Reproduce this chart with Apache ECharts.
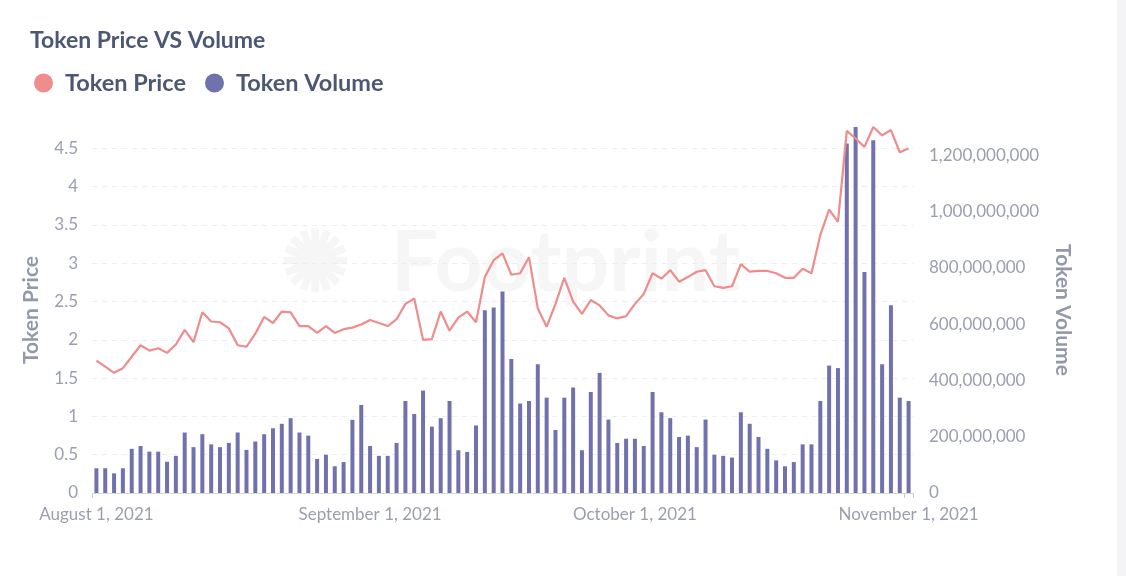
<!DOCTYPE html>
<html>
<head>
<meta charset="utf-8">
<script src="https://cdn.jsdelivr.net/npm/echarts@6/dist/echarts.min.js"></script>
<style>
html,body{margin:0;padding:0;background:#fff;}
#chart{width:1126px;height:576px;}
</style>
</head>
<body>
<div id="chart"></div>
<script>
// Daily categories: August 1, 2021 .. November 1, 2021
const startDate = '2021-08-01';
const dayCount = 93;
const monthNames = ['January','February','March','April','May','June','July','August','September','October','November','December'];
const categories = [];
(function(){
  const d0 = new Date(startDate + 'T00:00:00Z');
  for (let i = 0; i < dayCount; i++) {
    const d = new Date(d0.getTime() + i * 86400000);
    categories.push(monthNames[d.getUTCMonth()] + ' ' + d.getUTCDate() + ', ' + d.getUTCFullYear());
  }
})();

const tokenPrice = [
  1.73,1.65,1.57,1.63,1.78,1.93,1.86,1.89,1.83,1.94,
  2.13,1.97,2.36,2.24,2.23,2.15,1.93,1.91,2.08,2.30,
  2.22,2.37,2.36,2.18,2.18,2.09,2.18,2.09,2.14,2.16,
  2.20,2.26,2.22,2.18,2.27,2.47,2.54,2.00,2.01,2.37,
  2.12,2.29,2.37,2.23,2.82,3.04,3.13,2.85,2.87,3.08,
  2.41,2.17,2.47,2.81,2.50,2.34,2.52,2.45,2.32,2.28,
  2.31,2.47,2.60,2.87,2.80,2.91,2.76,2.82,2.89,2.91,
  2.70,2.68,2.70,2.99,2.89,2.90,2.90,2.87,2.81,2.81,
  2.93,2.87,3.37,3.70,3.54,4.73,4.63,4.52,4.78,4.67,
  4.74,4.45,4.50
];

const tokenVolume = [
  88e6,88e6,70e6,88e6,157e6,167e6,147e6,147e6,111e6,132e6,
  215e6,163e6,209e6,173e6,163e6,178e6,215e6,153e6,183e6,209e6,
  230e6,246e6,266e6,215e6,204e6,121e6,136e6,95e6,110e6,260e6,
  313e6,167e6,132e6,132e6,178e6,327e6,281e6,364e6,236e6,266e6,
  327e6,152e6,146e6,240e6,650e6,659e6,716e6,476e6,318e6,327e6,
  458e6,339e6,224e6,339e6,375e6,152e6,359e6,427e6,261e6,178e6,
  193e6,193e6,167e6,359e6,287e6,266e6,199e6,204e6,163e6,261e6,
  136e6,132e6,126e6,287e6,246e6,199e6,157e6,116e6,95e6,110e6,
  173e6,173e6,327e6,453e6,444e6,1242e6,1301e6,786e6,1254e6,458e6,
  667e6,339e6,327e6
];

const priceTicks = 0.5;
const volumeTicks = 200000000;

const chart = echarts.init(document.getElementById('chart'));
const labelColor = '#9a9fb0';
const fontFam = 'Lato, "Open Sans", sans-serif';

chart.setOption({
  animation: false,
  backgroundColor: '#ffffff',
  textStyle: { fontFamily: fontFam },
  title: {
    text: 'Token Price VS Volume',
    left: 25, top: 24,
    textStyle: { fontFamily: fontFam, fontSize: 23, fontWeight: 'bold', color: '#4c5773' }
  },
  legend: {
    left: 29, top: 66,
    itemWidth: 19, itemHeight: 19, itemGap: 19,
    icon: 'circle',
    textStyle: { fontFamily: fontFam, fontSize: 23.5, fontWeight: 'bold', color: '#4c5773', padding: [0,0,0,7] },
    data: ['Token Price', 'Token Volume']
  },
  graphic: [
    { type: 'text', left: 280, top: 222, z: -10, silent: true,
      style: { text: '✺  Footprint', fontSize: 84, fontWeight: 'bold', fontFamily: fontFam, fill: 'rgba(200,200,205,0.16)' } },
    { type: 'rect', right: 0, top: 0, z: -10, shape: { width: 9, height: 576 }, style: { fill: '#f4f4f6' } }
  ],
  grid: { left: 92, right: 213, top: 127, bottom: 83 },
  xAxis: {
    type: 'category',
    data: categories,
    boundaryGap: true,
    axisLine: { lineStyle: { color: '#d6d8df', width: 1 } },
    axisTick: { show: true, length: 5, lineStyle: { color: '#c9ccd4' },
      interval: function (i) { return i === 0 || i === categories.length - 1; } },
    axisLabel: {
      interval: function (i, v) { return / 1, /.test(v); },
      color: labelColor, fontSize: 17, fontFamily: fontFam, margin: 13
    }
  },
  yAxis: [
    {
      type: 'value', min: 0, max: Math.max.apply(null, tokenPrice), interval: priceTicks,
      name: 'Token Price', nameLocation: 'middle', nameRotate: 90, nameGap: 50,
      nameTextStyle: { fontFamily: fontFam, fontSize: 21, fontWeight: 'bold', color: '#9398ab' },
      axisLine: { show: false }, axisTick: { show: false },
      axisLabel: { color: labelColor, fontSize: 17, fontFamily: fontFam, margin: 14, showMaxLabel: false },
      splitLine: { show: true, showMaxLine: false, lineStyle: { color: '#ededf1', type: [5, 5], width: 1 } }
    },
    {
      type: 'value', min: 0, max: Math.max.apply(null, tokenVolume), interval: volumeTicks,
      name: 'Token Volume', nameLocation: 'middle', nameRotate: -90, nameGap: 139,
      nameTextStyle: { fontFamily: fontFam, fontSize: 21, fontWeight: 'bold', color: '#9398ab' },
      axisLine: { show: false }, axisTick: { show: false },
      axisLabel: { color: labelColor, fontSize: 17, fontFamily: fontFam, margin: 16, showMaxLabel: false,
        formatter: function (v) { return Math.round(v).toLocaleString('en-US'); } },
      splitLine: { show: false }
    }
  ],
  series: [
    {
      name: 'Token Price', type: 'line', yAxisIndex: 0, data: tokenPrice,
      showSymbol: false, symbol: 'none', z: 3,
      itemStyle: { color: '#ef8c8c' },
      lineStyle: { color: '#ef8c8c', width: 2.2 }
    },
    {
      name: 'Token Volume', type: 'bar', yAxisIndex: 1, data: tokenVolume,
      barWidth: 4, z: 2,
      itemStyle: { color: '#7172ad' }
    }
  ]
});
</script>
</body>
</html>
